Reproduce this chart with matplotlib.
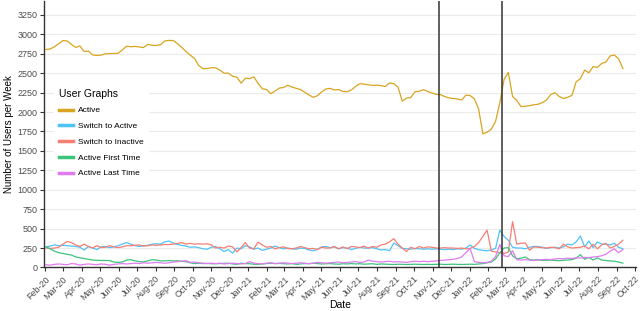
import pandas as pd
import matplotlib
matplotlib.use("Agg")
import matplotlib.pyplot as plt
import matplotlib.dates as mdates
from matplotlib.lines import Line2D

plt.rcParams['font.family'] = ['Liberation Sans', 'DejaVu Sans']

# weekly observations, first week starting 2020-02-02
weeks = pd.date_range("2020-02-02", periods=137, freq="7D")

active = [
  2805, 2812, 2840, 2880, 2920, 2915, 2870, 2832, 2850, 2780,
  2785, 2735, 2728, 2733, 2750, 2752, 2754, 2756, 2800, 2848,
  2840, 2845, 2838, 2830, 2872, 2860, 2857, 2866, 2915, 2922,
  2920, 2880, 2832, 2780, 2733, 2690, 2600, 2558, 2560, 2572,
  2568, 2540, 2500, 2500, 2462, 2448, 2372, 2435, 2430, 2452,
  2370, 2300, 2290, 2236, 2270, 2308, 2316, 2345, 2322, 2305,
  2290, 2255, 2220, 2190, 2210, 2260, 2297, 2305, 2284, 2290,
  2265, 2262, 2284, 2330, 2365, 2360, 2350, 2344, 2346, 2340,
  2328, 2374, 2365, 2320, 2140, 2180, 2186, 2262, 2267, 2288,
  2265, 2245, 2228, 2224, 2200, 2182, 2175, 2168, 2155, 2218,
  2212, 2170, 2040, 1720, 1740, 1780, 1880, 2120, 2420, 2510,
  2200, 2150, 2070, 2075, 2082, 2095, 2100, 2120, 2155, 2225,
  2250, 2200, 2175, 2190, 2215, 2390, 2430, 2540, 2505, 2585,
  2574, 2625, 2643, 2722, 2733, 2685, 2560]

switch_active = [
  265, 275, 290, 280, 285, 280, 275, 270, 260, 225,
  270, 250, 230, 265, 270, 255, 265, 280, 300, 320,
  300, 280, 270, 280, 285, 300, 305, 300, 330, 340,
  315, 295, 285, 275, 260, 265, 255, 240, 235, 260,
  270, 240, 205, 230, 185, 250, 240, 280, 265, 235,
  250, 220, 235, 250, 275, 255, 240, 250, 240, 235,
  250, 245, 225, 215, 235, 265, 270, 255, 265, 240,
  255, 250, 230, 245, 260, 250, 250, 255, 240, 225,
  230, 215, 315, 280, 245, 240, 235, 245, 240, 235,
  240, 235, 240, 235, 230, 235, 230, 240, 235, 250,
  290, 245, 230, 220, 215, 225, 245, 480, 400, 350,
  260, 250, 250, 240, 260, 270, 270, 260, 245, 255,
  260, 250, 265, 300, 290, 330, 405, 265, 340, 256,
  328, 300, 300, 290, 310, 260, 240]

switch_inactive = [
  250, 245, 250, 260, 300, 335, 320, 290, 270, 300,
  270, 250, 280, 255, 260, 280, 265, 255, 265, 280,
  280, 285, 290, 275, 280, 290, 285, 290, 295, 295,
  300, 310, 320, 300, 310, 300, 305, 300, 305, 290,
  250, 260, 250, 275, 265, 200, 255, 320, 250, 240,
  325, 290, 260, 270, 240, 255, 265, 245, 240, 250,
  270, 255, 240, 245, 230, 260, 250, 250, 270, 240,
  265, 240, 270, 265, 255, 275, 250, 270, 260, 290,
  300, 330, 370, 300, 250, 205, 260, 240, 270, 250,
  265, 260, 250, 250, 255, 250, 250, 245, 250, 240,
  245, 270, 320, 400, 480, 210, 200, 190, 180, 200,
  590, 300, 310, 316, 222, 265, 260, 255, 250, 260,
  255, 240, 300, 265, 250, 255, 260, 275, 240, 300,
  240, 290, 310, 250, 270, 300, 350]

first_time = [
  265, 240, 210, 190, 180, 170, 160, 135, 125, 115,
  105, 95, 92, 90, 90, 88, 70, 65, 70, 95,
  100, 85, 75, 72, 85, 100, 95, 85, 85, 88,
  85, 85, 80, 75, 60, 50, 55, 50, 52, 48,
  48, 50, 52, 55, 45, 40, 55, 50, 48, 42,
  40, 45, 50, 55, 50, 52, 48, 45, 50, 40,
  45, 50, 48, 55, 50, 45, 48, 50, 45, 42,
  48, 45, 50, 45, 48, 42, 45, 48, 40, 45,
  42, 40, 38, 42, 40, 38, 40, 42, 40, 38,
  40, 38, 40, 42, 38, 40, 42, 40, 38, 40,
  42, 40, 45, 50, 60, 70, 110, 190, 250, 255,
  150, 110, 120, 135, 100, 95, 100, 90, 92, 95,
  90, 88, 92, 95, 100, 120, 165, 105, 130, 95,
  125, 95, 90, 85, 80, 70, 55]

last_time = [
  35, 30, 40, 45, 40, 35, 50, 45, 30, 40,
  45, 40, 35, 45, 40, 30, 40, 45, 50, 45,
  50, 55, 50, 60, 55, 60, 65, 60, 55, 60,
  70, 75, 80, 88, 65, 70, 60, 55, 50, 55,
  50, 55, 45, 50, 55, 50, 45, 50, 75, 55,
  50, 45, 55, 60, 50, 55, 60, 55, 50, 55,
  60, 55, 50, 55, 65, 60, 55, 60, 65, 70,
  60, 65, 70, 75, 65, 70, 95, 80, 75, 70,
  75, 80, 70, 75, 70, 65, 75, 80, 75, 80,
  75, 80, 85, 90, 95, 100, 105, 115, 135, 190,
  245, 75, 65, 60, 65, 80, 140, 295, 150, 140,
  215, 100, 95, 100, 95, 90, 95, 100, 105, 100,
  110, 115, 110, 120, 115, 125, 120, 130, 125, 135,
  140, 150, 170, 210, 240, 190, 230]

series_names = ["Active", "Switch to Active", "Switch to Inactive",
                "Active First Time", "Active Last Time"]
series_values = [active, switch_active, switch_inactive, first_time, last_time]
colors = ["#D9A520", "#4FC3F7", "#F57F75", "#3CC47C", "#E07BF0"]

event_dates = ["2021-11-11", "2022-02-24"]

y_ticks = list(range(0, 3251, 250))

############################## PLOT ##############################

fig = plt.figure(figsize=(6.4, 3.11), dpi=100)
ax = fig.add_axes([0.069, 0.14, 0.925, 0.857])

for values, color in zip(series_values, colors):
  ax.plot(weeks, values, color=color, lw=0.9)

for d in event_dates:
  ax.axvline(pd.Timestamp(d), color="#333333", lw=1.1, zorder=5)

ax.set_ylim(0, 3430)
ax.set_xlim(pd.Timestamp("2020-01-30"), pd.Timestamp("2022-10-03"))
ax.set_yticks(y_ticks)
ax.yaxis.grid(True, color="#ebebeb", lw=0.8)
ax.set_axisbelow(True)

ax.xaxis.set_major_locator(mdates.MonthLocator())
ax.xaxis.set_major_formatter(mdates.DateFormatter("%b-%y"))
plt.setp(ax.get_xticklabels(), rotation=45, ha="right", rotation_mode="anchor")
ax.tick_params(axis="both", labelsize=6.5, labelcolor="#4d4d4d", length=3,
               color="#333333", width=0.8, pad=2)

for side in ["top", "right"]:
  ax.spines[side].set_visible(False)
for side in ["left", "bottom"]:
  ax.spines[side].set_color("#333333")
  ax.spines[side].set_linewidth(1.0)

ax.set_xlabel("Date", fontsize=7.5)
ax.xaxis.set_label_coords(0.5, -0.122)
ax.set_ylabel("Number of Users per Week", fontsize=7)
ax.yaxis.set_label_coords(-0.051, 0.5)

handles = [Line2D([0], [0], color=c, lw=2.5) for c in colors]
leg = ax.legend(handles, series_names, title="User Graphs", loc="upper left",
                bbox_to_anchor=(0.01, 0.705), fontsize=6, title_fontsize=7.5,
                frameon=True, fancybox=False, edgecolor="white",
                handlelength=1.6, handletextpad=0.6, labelspacing=0.95,
                borderpad=0.6)
leg._legend_box.align = "left"
leg.get_frame().set_alpha(1.0)

fig.savefig("out.png", dpi=100)
